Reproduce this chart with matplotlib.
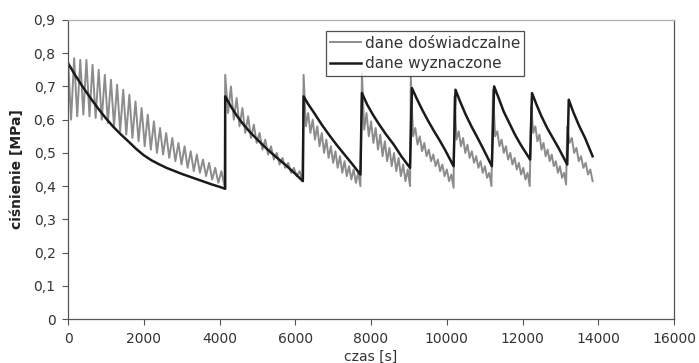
import numpy as np
import matplotlib
matplotlib.use('Agg')
from matplotlib import pyplot as plt
from matplotlib.ticker import FuncFormatter

plt.rcParams['font.family'] = ['DejaVu Sans']

# measured data (dane doswiadczalne): segments between refills, peak/trough per cycle
seg_start = [0, 4150, 6220, 7760, 9050, 10200, 11220, 12230, 13180]
seg_end = [4130, 6190, 7720, 9030, 10180, 11180, 12190, 13150, 13850]
exp_peaks = [
    [0.78, 0.785, 0.78, 0.78, 0.765, 0.75, 0.735, 0.72, 0.705, 0.69, 0.675, 0.655, 0.635,
     0.615, 0.595, 0.575, 0.56, 0.545, 0.53, 0.52, 0.505, 0.495, 0.48, 0.47, 0.455, 0.445],
    [0.735, 0.70, 0.665, 0.635, 0.61, 0.585, 0.56, 0.54, 0.52, 0.50, 0.485, 0.47, 0.455, 0.445],
    [0.735, 0.62, 0.60, 0.58, 0.56, 0.54, 0.52, 0.505, 0.49, 0.475, 0.46, 0.45, 0.44],
    [0.74, 0.62, 0.595, 0.575, 0.555, 0.535, 0.515, 0.50, 0.485, 0.465, 0.45],
    [0.73, 0.575, 0.55, 0.53, 0.51, 0.495, 0.48, 0.465, 0.45, 0.435],
    [0.67, 0.565, 0.545, 0.525, 0.505, 0.49, 0.475, 0.46, 0.44],
    [0.69, 0.565, 0.54, 0.52, 0.50, 0.485, 0.47, 0.455, 0.44],
    [0.64, 0.58, 0.555, 0.53, 0.51, 0.495, 0.475, 0.46, 0.44],
    [0.58, 0.545, 0.515, 0.49, 0.47, 0.45],
]
exp_troughs = [
    [0.60, 0.61, 0.615, 0.61, 0.605, 0.60, 0.59, 0.58, 0.565, 0.555, 0.545, 0.535, 0.52,
     0.51, 0.50, 0.495, 0.485, 0.475, 0.465, 0.455, 0.445, 0.44, 0.43, 0.42, 0.41, 0.40],
    [0.62, 0.60, 0.58, 0.56, 0.545, 0.53, 0.51, 0.495, 0.48, 0.465, 0.455, 0.44, 0.43, 0.415],
    [0.58, 0.56, 0.54, 0.52, 0.50, 0.485, 0.47, 0.455, 0.44, 0.43, 0.42, 0.41, 0.40],
    [0.57, 0.55, 0.53, 0.51, 0.49, 0.475, 0.46, 0.445, 0.43, 0.415, 0.40],
    [0.55, 0.525, 0.505, 0.49, 0.475, 0.46, 0.445, 0.43, 0.415, 0.395],
    [0.54, 0.52, 0.50, 0.485, 0.47, 0.455, 0.44, 0.425, 0.40],
    [0.55, 0.52, 0.50, 0.48, 0.465, 0.45, 0.435, 0.42, 0.40],
    [0.56, 0.535, 0.51, 0.49, 0.475, 0.46, 0.44, 0.425, 0.405],
    [0.53, 0.50, 0.475, 0.455, 0.435, 0.415],
]
exp_first = 0.28

# model (dane wyznaczone)
mod_t = [0, 200, 400, 600, 800, 1000, 1200, 1400, 1600, 1800, 2000, 2200, 2400, 2600, 2800,
         3000, 3200, 3400, 3600, 3800, 4000, 4150,
         4150, 4300, 4450, 4600, 4800, 5000, 5250, 5500, 5750, 6000, 6200,
         6220, 6350, 6500, 6700, 6900, 7100, 7300, 7500, 7720,
         7760, 7900, 8050, 8200, 8400, 8600, 8800, 9030,
         9080, 9200, 9350, 9500, 9650, 9800, 9950, 10180,
         10230, 10350, 10500, 10650, 10800, 10950, 11190,
         11250, 11370, 11500, 11650, 11800, 11950, 12200,
         12250, 12370, 12500, 12650, 12800, 12950, 13180,
         13220, 13350, 13500, 13650, 13850]
mod_p = [0.770, 0.732, 0.697, 0.664, 0.633, 0.604, 0.578, 0.555, 0.534, 0.512, 0.493, 0.478,
         0.466, 0.455, 0.446, 0.437, 0.429, 0.421, 0.413, 0.405, 0.398, 0.392,
         0.67, 0.64, 0.613, 0.59, 0.563, 0.54, 0.512, 0.487, 0.463, 0.437, 0.415,
         0.67, 0.645, 0.62, 0.585, 0.553, 0.523, 0.495, 0.467, 0.435,
         0.68, 0.645, 0.615, 0.588, 0.555, 0.525, 0.49, 0.455,
         0.695, 0.665, 0.63, 0.598, 0.568, 0.54, 0.51, 0.46,
         0.69, 0.655, 0.615, 0.58, 0.548, 0.515, 0.46,
         0.70, 0.665, 0.625, 0.59, 0.555, 0.525, 0.48,
         0.68, 0.645, 0.61, 0.575, 0.545, 0.515, 0.465,
         0.66, 0.62, 0.58, 0.545, 0.49]

x_ticks = np.arange(0, 16001, 2000)
y_ticks = np.arange(0, 0.91, 0.1)

# build zigzag of measured data
exp_t = [0]
exp_p = [exp_first]
for s, e, pk, tr in zip(seg_start, seg_end, exp_peaks, exp_troughs):
    vals = []
    for a, b in zip(pk, tr):
        vals += [a, b]
    exp_t += list(np.linspace(s, e, len(vals)))
    exp_p += vals

fig = plt.figure(figsize=(6.99, 3.63), dpi=100)
ax = fig.add_axes([0.0973, 0.121, 0.8670, 0.824])

ax.plot(exp_t, exp_p, color='#8c8c8c', linewidth=1.4, label='dane doświadczalne')
ax.plot(mod_t, mod_p, color='#1a1a1a', linewidth=1.8, label='dane wyznaczone')

ax.set_xlim(0, 16000)
ax.set_ylim(0, 0.9)
ax.set_xticks(x_ticks)
ax.set_yticks(y_ticks)
ax.yaxis.set_major_formatter(FuncFormatter(lambda v, p: '0' if abs(v) < 1e-9 else ('%.1f' % v).replace('.', ',')))
ax.tick_params(direction='out', length=4, width=0.8, color='#555555', labelsize=10,
               labelcolor='#333333', pad=5)

for s in ['left', 'bottom', 'right']:
    ax.spines[s].set_color('#555555')
    ax.spines[s].set_linewidth(0.9)
ax.spines['top'].set_color('#b0b0b0')
ax.spines['top'].set_linewidth(0.9)

ax.set_xlabel('czas [s]', fontsize=10, color='#333333', labelpad=3)
ax.set_ylabel('ciśnienie [MPa]', fontsize=10, fontweight='bold', color='#222222', labelpad=7)

leg = ax.legend(loc='upper left', bbox_to_anchor=(0.425, 0.963), frameon=True, fancybox=False,
                edgecolor='#222222', fontsize=11, handlelength=2.0, handletextpad=0.25,
                borderpad=0.3, labelspacing=0.35, borderaxespad=0)
leg.get_frame().set_linewidth(0.9)
for t in leg.get_texts():
    t.set_color('#333333')

fig.savefig('out.png', dpi=100)
